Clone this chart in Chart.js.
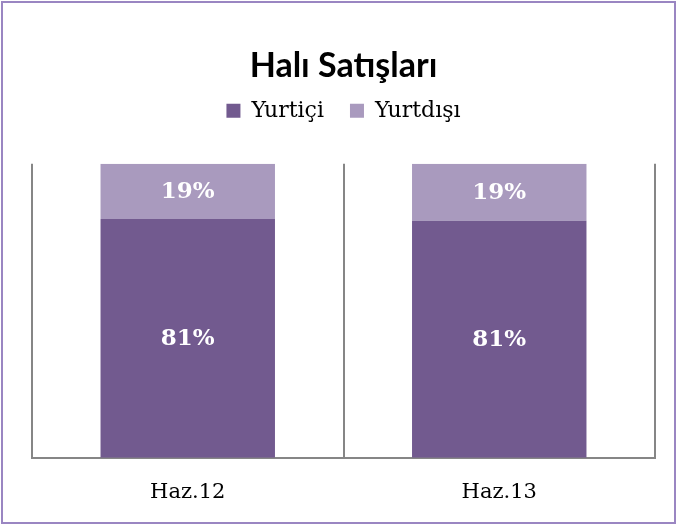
<!DOCTYPE html>
<html>
<head>
<meta charset="utf-8">
<script src="https://cdn.jsdelivr.net/npm/chart.js@4.4.1/dist/chart.umd.min.js"></script>
<style>
  html, body { margin: 0; padding: 0; background: #fff; }
  #wrap { width: 677px; height: 525px; }
</style>
</head>
<body>
<div id="wrap"><canvas id="barChart" width="677" height="525"></canvas></div>
<script>
const categories = ["Haz.12", "Haz.13"];
const yurtici = [81.2, 80.6];
const yurtdisi = [18.8, 19.4];
const seriesNames = ["Yurtiçi", "Yurtdışı"];

// white background + purple frame
const framePlugin = {
  id: "frame",
  beforeDraw(chart) {
    const ctx = chart.ctx;
    ctx.save();
    ctx.fillStyle = "#fff";
    ctx.fillRect(0, 0, chart.width, chart.height);
    ctx.strokeStyle = "#9a86c2";
    ctx.lineWidth = 2;
    ctx.strokeRect(2, 2, chart.width - 4, chart.height - 4);
    ctx.restore();
  }
};

// percent labels inside the bar segments
const valueLabels = {
  id: "valueLabels",
  afterDatasetsDraw(chart) {
    const ctx = chart.ctx;
    ctx.save();
    ctx.fillStyle = "#fff";
    ctx.font = "bold 23px 'DejaVu Serif'";
    ctx.textAlign = "center";
    ctx.textBaseline = "middle";
    chart.data.datasets.forEach((ds, i) => {
      chart.getDatasetMeta(i).data.forEach((bar, j) => {
        const p = bar.getProps(["x", "y", "base"], true);
        ctx.fillText(Math.round(ds.data[j]) + "%", p.x, (p.y + p.base) / 2 + 1);
      });
    });
    ctx.restore();
  }
};

new Chart(document.getElementById("barChart"), {
  type: "bar",
  data: {
    labels: categories,
    datasets: [
      { label: seriesNames[0], data: yurtici, backgroundColor: "#725a8f" },
      { label: seriesNames[1], data: yurtdisi, backgroundColor: "#a99abe" }
    ]
  },
  options: {
    responsive: false,
    animation: false,
    layout: { padding: { left: 32, right: 22, top: 46, bottom: -2 } },
    datasets: { bar: { categoryPercentage: 1, barPercentage: 0.56 } },
    plugins: {
      title: {
        display: true,
        text: "Halı Satışları",
        color: "#000",
        font: { family: "Lato", weight: "bold", size: 34 },
        padding: { top: 0, bottom: -13 }
      },
      legend: {
        display: true,
        labels: {
          color: "#000",
          font: { family: "DejaVu Serif", size: 22 },
          boxWidth: 14,
          boxHeight: 14,
          padding: 26
        }
      },
      // empty subtitle under the legend, only used as a spacer
      subtitle: {
        display: true,
        text: "",
        weight: 500,
        font: { size: 1, lineHeight: 1 },
        padding: { top: 0, bottom: 31 }
      },
      tooltip: { enabled: false }
    },
    scales: {
      x: {
        stacked: true,
        grid: {
          offset: true,
          color: "#868686",
          lineWidth: 2,
          drawTicks: false
        },
        border: { display: true, color: "#868686", width: 2 },
        ticks: {
          color: "#000",
          padding: 22,
          font: { family: "DejaVu Serif", size: 21 }
        }
      },
      y: {
        stacked: true,
        display: false,
        min: 0,
        max: 100
      }
    }
  },
  plugins: [framePlugin, valueLabels]
});
</script>
</body>
</html>
